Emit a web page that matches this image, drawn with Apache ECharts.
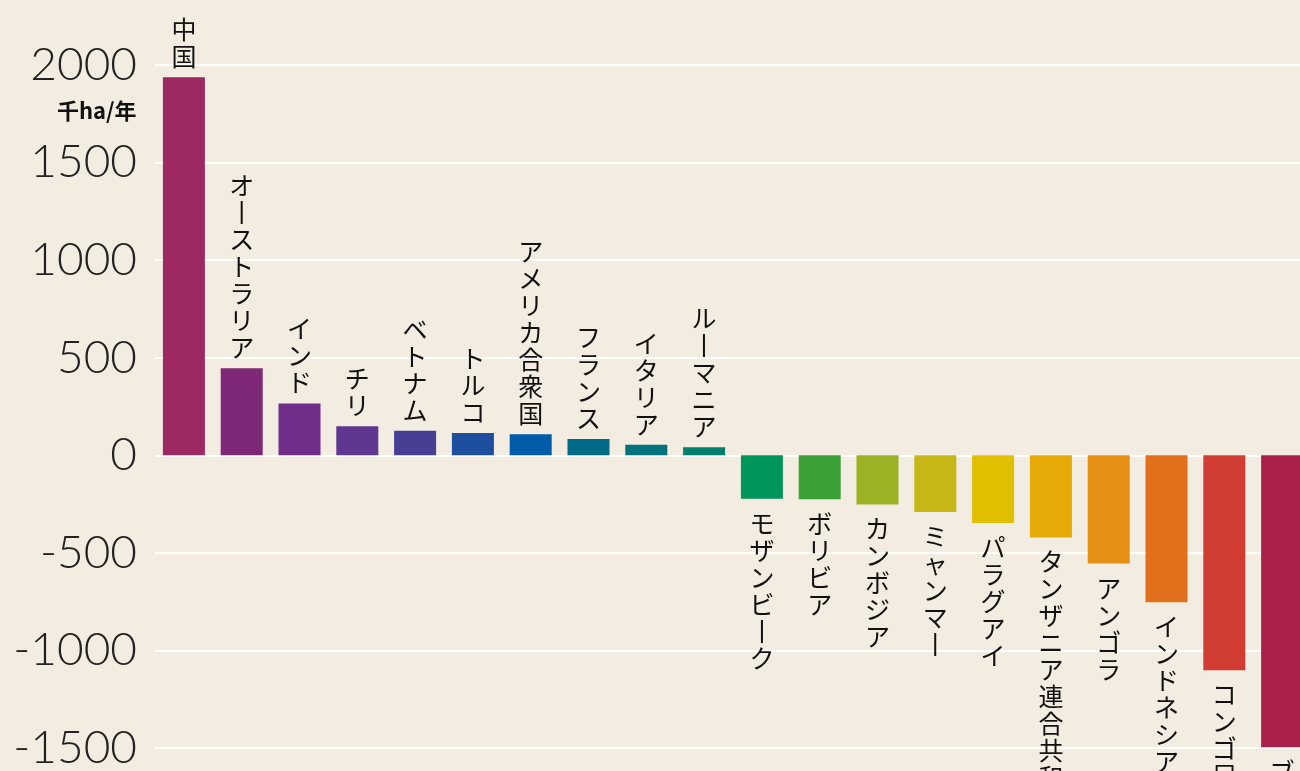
<!DOCTYPE html>
<html>
<head>
<meta charset="utf-8">
<script src="https://cdn.jsdelivr.net/npm/echarts@6/dist/echarts.min.js"></script>
<style>
html,body{margin:0;padding:0;background:#f2ece1;overflow:hidden;width:1300px;height:771px;}
#chart{width:1330px;height:771px;}
</style>
</head>
<body>
<div id="chart"></div>
<script>
const categories = ['中国','オーストラリア','インド','チリ','ベトナム','トルコ','アメリカ合衆国','フランス','イタリア','ルーマニア','モザンビーク','ボリビア','カンボジア','ミャンマー','パラグアイ','タンザニア連合共和国','アンゴラ','インドネシア','コンゴ民主共和国','ブラジル'];
const values = [1937, 446, 266, 149, 126, 114, 108, 83, 54, 41, -223, -225, -252, -290, -347, -421, -555, -753, -1101, -1496];
const colors = ['#9d2862','#7f2877','#702d8a','#5f3790','#463f93','#1e4f9f','#005ba8','#006a86','#00727c','#007e6e','#00955a','#3ba136','#9bb225','#c7b716','#e0bf00','#e5aa05','#e58f15','#e16f1c','#d23d33','#a9214b'];
const yTicks = [-1500, -1000, -500, 0, 500, 1000, 1500, 2000];
const unitLabel = '千ha/年';

function vertical(s){
  return s.split('').map(c => c === 'ー' ? '丨' : c).join('\n');
}

const chart = echarts.init(document.getElementById('chart'));
chart.setOption({
  backgroundColor: '#f2ece1',
  animation: false,
  grid: {left: 155, width: 1156, top: 65, height: 683, containLabel: false},
  xAxis: {
    type: 'category',
    data: categories,
    axisLine: {show: false},
    axisTick: {show: false},
    axisLabel: {show: false}
  },
  yAxis: {
    type: 'value',
    min: yTicks[0],
    max: yTicks[yTicks.length - 1],
    interval: 500,
    axisLine: {show: false},
    axisTick: {show: false},
    splitLine: {lineStyle: {color: '#ffffff', width: 2}},
    axisLabel: {
      margin: 18,
      fontSize: 46,
      fontWeight: 300,
      fontFamily: 'Lato',
      color: '#222',
      padding: [8, 0, 0, 0],
      formatter: v => String(v)
    }
  },
  graphic: [{
    type: 'text',
    left: 57,
    top: 100,
    style: {
      text: unitLabel,
      fontSize: 22,
      fontWeight: 'bold',
      fontFamily: 'Noto Sans CJK JP',
      fill: '#111'
    }
  }],
  series: [{
    type: 'bar',
    barWidth: 42,
    data: values.map((v, i) => ({
      value: v,
      itemStyle: {color: colors[i]},
      label: {
        show: true,
        position: v >= 0 ? 'top' : 'bottom',
        distance: v >= 0 ? 7 : 11,
        formatter: vertical(categories[i]),
        fontSize: 25,
        lineHeight: 27,
        fontFamily: 'Noto Sans CJK JP',
        color: '#111',
        align: 'center'
      }
    }))
  }]
});
</script>
</body>
</html>
